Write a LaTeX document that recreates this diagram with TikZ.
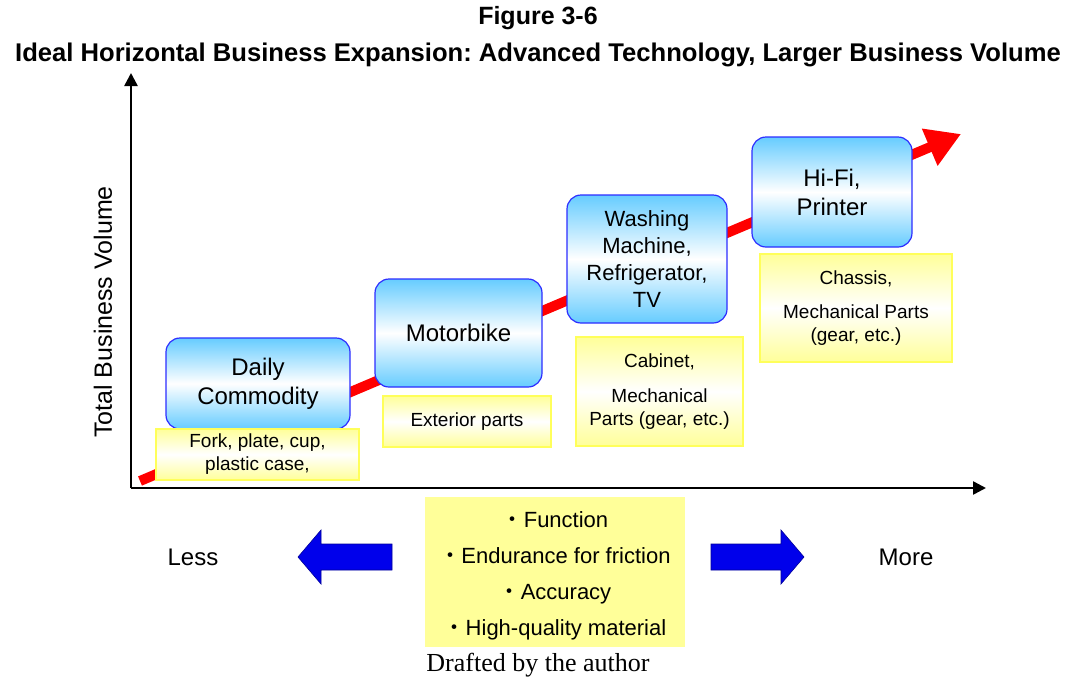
\documentclass[tikz,border=0pt]{standalone}
\usepackage{fontspec}
\setmainfont{Liberation Sans}
\newfontfamily\timesfont{Liberation Serif}
\newfontfamily\cjk{Noto Sans CJK JP}
\usetikzlibrary{arrows.meta}
\definecolor{skyblue}{RGB}{102,204,255}
\definecolor{boxblue}{RGB}{45,45,255}
\definecolor{paleyellow}{RGB}{255,255,153}
\definecolor{lineyellow}{RGB}{255,255,90}
\definecolor{arrowblue}{RGB}{0,0,235}
\newcommand{\fs}[2]{\fontsize{#1}{#2}\selectfont}
\newcommand{\dotmark}{{\cjk ・}}
\frenchspacing

\begin{document}
\begin{tikzpicture}[x=1pt,y=-1pt,
		stage/.style={draw=boxblue, line width=1.2pt, rounded corners=14pt,
			top color=skyblue, bottom color=skyblue, middle color=white,
			align=center, font=\fs{24}{29}},
		parts/.style={draw=lineyellow, line width=1.2pt,
			top color=paleyellow, bottom color=paleyellow, middle color=white,
			align=center, font=\fs{19}{23}},
		axis/.style={line width=2.5pt, -{Triangle[length=13pt,width=13pt]}},
		blockarrow/.style={fill=arrowblue, draw=blue!60!black, line width=.6pt}]
		\useasboundingbox (0,0) rectangle (1073,681);
		% titles
		\node[font=\fs{25}{29}\bfseries] (fig) at (538,18) {Figure 3-6};
		\node[font=\fs{25.6}{29}\bfseries] (title) at (538,55) {Ideal Horizontal Business Expansion: Advanced Technology, Larger Business Volume};
		% axes
		\coordinate (origin) at (131,488);
		\coordinate (ytop) at (131,73);
		\coordinate (xend) at (986,488);
		\draw[axis] (origin) -- (ytop);
		\draw[axis] (origin) -- (xend);
		\node[rotate=90, font=\fs{25}{28}] (ylabel) at (103,312) {Total Business Volume};
		% trend
		\coordinate (trendS) at (140,481);
		\coordinate (trendE) at (961,134);
		\draw[red, line width=10pt, -{Triangle[length=34pt,width=38pt]}] (trendS) -- (trendE);
		% products
		\node[stage, minimum width=184, minimum height=91] (daily) at (258,383.5) {Daily\\Commodity};
		\node[stage, minimum width=167, minimum height=108] (motor) at (458.5,333) {Motorbike};
		\node[stage, minimum width=160, minimum height=128, font=\fs{22}{27}] (washing) at (647,259) {Washing\\Machine,\\Refrigerator,\\TV};
		\node[stage, minimum width=160, minimum height=110] (hifi) at (832,192) {Hi-Fi,\\Printer};
		% parts
		\node[parts, minimum width=203, minimum height=51] (fork) at (257.5,454.5) {Fork, plate, cup,\\plastic case,};
		\node[parts, minimum width=168, minimum height=51] (exterior) at (467,421.5) {Exterior parts};
		\node[parts, minimum width=167, minimum height=109] (cabinet) at (659.5,391.5) {Cabinet,\\[12pt]Mechanical\\Parts (gear, etc.)};
		\node[parts, minimum width=192, minimum height=108] (chassis) at (856,308) {Chassis,\\[11pt]Mechanical Parts\\(gear, etc.)};
		% requirements
		\node[fill=paleyellow, minimum width=260, minimum height=150, align=center, font=\fs{22}{36}] (needs) at (555,572)
		{\rule{0pt}{24pt}\dotmark Function\\\dotmark Endurance for friction\\\dotmark Accuracy\\\dotmark High-quality material};
		\draw[blockarrow] (392,544) -- (321,544) -- (321,530) -- (298,557) -- (321,584) -- (321,570) -- (392,570) -- cycle;
		\draw[blockarrow] (711,544) -- (781,544) -- (781,530) -- (804,557) -- (781,584) -- (781,570) -- (711,570) -- cycle;
		\node[font=\fs{24}{28}] (less) at (193,557) {Less};
		\node[font=\fs{24}{28}] (more) at (906,557) {More};
		\node[font=\timesfont\fs{26}{30}] (source) at (538,665) {Drafted by the author};
	\end{tikzpicture}
\end{document}
